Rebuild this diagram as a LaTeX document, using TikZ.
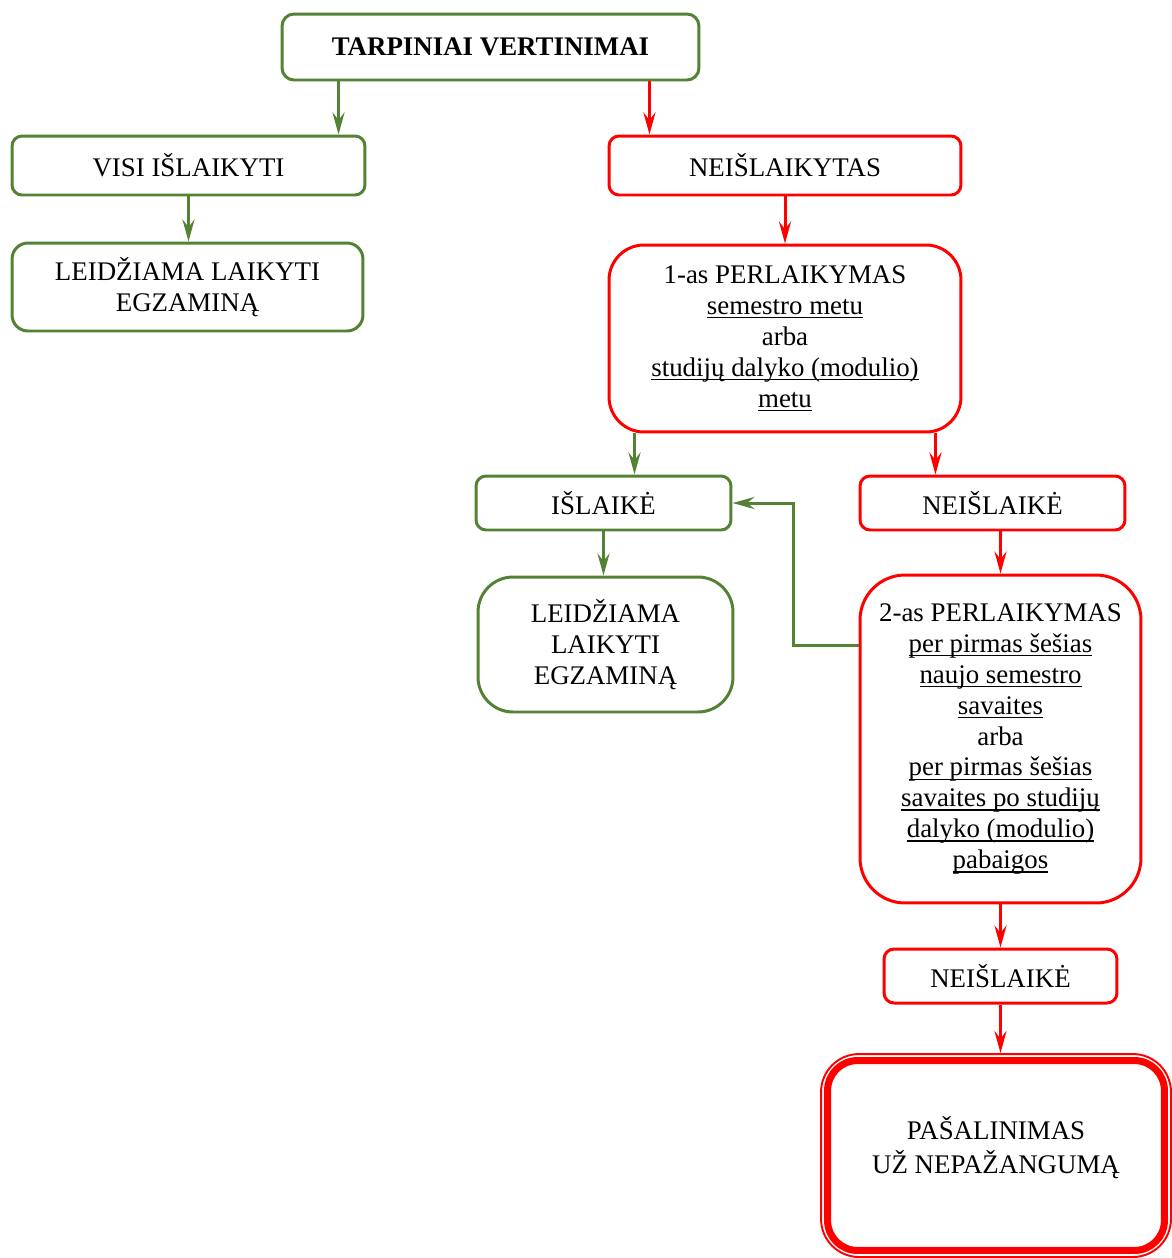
\documentclass[tikz,border=0pt]{standalone}
\usepackage{fontspec}
\setmainfont{Liberation Serif}
\usetikzlibrary{arrows.meta}
\definecolor{passgreen}{RGB}{84,130,53}
\definecolor{failred}{RGB}{255,0,0}
\newcommand{\ulpart}[1]{\setbox0\hbox{#1}\rlap{\rule[-2.2pt]{\wd0}{0.7pt}}\box0}

\begin{document}
\begin{tikzpicture}[x=0.02cm,y=-0.02cm]
    \tikzstyle{box}=[draw,line width=1.7pt,rounded corners=0.2cm,align=center,inner sep=2pt,font=\fontsize{15.3}{17.6}\selectfont]
    \tikzstyle{pass}=[box,draw=passgreen]
    \tikzstyle{fail}=[box,draw=failred]
    \tikzstyle{arr}=[line width=1.7pt,-{Stealth[length=0.44cm,width=0.24cm,inset=0.15cm]}]
    \useasboundingbox (0,0) rectangle (1172,1258);
    \node[pass,minimum width=8.34cm,minimum height=1.32cm,rounded corners=0.24cm,font=\fontsize{15.3}{17.6}\selectfont\bfseries] (top) at (490.5,47) {TARPINIAI VERTINIMAI};
    \node[pass,minimum width=7.06cm,minimum height=1.18cm] (visi) at (188.5,165.5) {VISI IŠLAIKYTI};
      \node[pass,minimum width=7.02cm,minimum height=1.76cm,rounded corners=0.32cm] (leid1) at (187.5,287) {LEIDŽIAMA LAIKYTI\\EGZAMINĄ};
    \node[fail,minimum width=7.04cm,minimum height=1.18cm] (neisl) at (785,165.5) {NEIŠLAIKYTAS};
      \node[fail,minimum width=7.04cm,minimum height=3.74cm,rounded corners=0.7cm] (per1) at (785,338.5) {1-as PERLAIKYMAS\\\ulpart{semestro metu}\\arba\\\ulpart{studijų dalyko (modulio)}\\\ulpart{metu}};
    \node[pass,minimum width=5.1cm,minimum height=1.08cm] (isl) at (603.5,503) {IŠLAIKĖ};
      \node[pass,minimum width=5.1cm,minimum height=2.7cm,rounded corners=0.7cm] (leid2) at (605.5,644.5) {LEIDŽIAMA\\LAIKYTI\\EGZAMINĄ};
    \node[fail,minimum width=5.3cm,minimum height=1.08cm] (neisl1) at (992.5,503) {NEIŠLAIKĖ};
      \node[fail,minimum width=5.62cm,minimum height=6.56cm,rounded corners=0.9cm] (per2) at (1000.5,739) {2-as PERLAIKYMAS\\\ulpart{per pirmas šešias}\\\ulpart{naujo semestro}\\\ulpart{savaites}\\arba\\\ulpart{per pirmas šešias}\\\ulpart{savaites po studijų}\\\ulpart{dalyko (modulio)}\\\ulpart{pabaigos}};
    \node[fail,minimum width=4.66cm,minimum height=1.08cm] (neisl2) at (1000.5,976) {NEIŠLAIKĖ};
      \node[fail,line width=1.1pt,minimum width=7.0cm,minimum height=4.06cm,rounded corners=0.76cm] (pasal) at (996,1155.5) {PAŠALINIMAS\\[0.06cm]UŽ NEPAŽANGUMĄ\\[-0.2cm]};
      \draw[failred,line width=4pt,rounded corners=0.6cm] ([shift={(0.15cm,-0.15cm)}]pasal.north west) rectangle ([shift={(-0.15cm,0.15cm)}]pasal.south east);

    \draw[arr,passgreen] ([xshift=1.16cm]top.south west) -- ([xshift=1.16cm]top.south west |- visi.north);
    \draw[arr,failred] ([xshift=-1.02cm]top.south east) -- ([xshift=-1.02cm]top.south east |- neisl.north);
    \draw[arr,passgreen] (visi.south) -- (visi.south |- leid1.north);
    \draw[arr,failred] (neisl) -- (per1);
    \draw[arr,passgreen] ([xshift=0.54cm]per1.south west) -- ([xshift=0.54cm]per1.south west |- isl.north);
    \draw[arr,failred] ([xshift=-0.54cm]per1.south east) -- ([xshift=-0.54cm]per1.south east |- neisl1.north);
    \draw[arr,passgreen] (isl.south) -- (isl.south |- leid2.north);
    \draw[arr,failred] (per2.north |- neisl1.south) -- (per2.north);
    \draw[arr,passgreen] ([yshift=1.88cm]per2.west) -| ([xshift=1.22cm]isl.east) -- (isl.east);
    \draw[arr,failred] (per2.south) -- (per2.south |- neisl2.north);
    \draw[arr,failred] (neisl2.south) -- (neisl2.south |- pasal.north);
\end{tikzpicture}
\end{document}
